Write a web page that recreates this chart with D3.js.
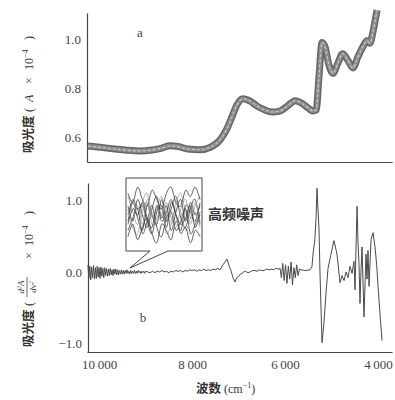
<!DOCTYPE html>
<html>
<head>
<meta charset="utf-8">
<script src="https://cdn.jsdelivr.net/npm/d3@7"></script>
<style>
  body { margin: 0; background: #fff; }
</style>
</head>
<body>
<div id="chart"></div>
<script>
var SERIF = "Liberation Serif, DejaVu Serif, serif";
var CJK = "Noto Sans CJK SC, sans-serif";

// top panel: absorbance spectrum (cm-1, A x 10^-4)
var topWave = [10240, 9980, 9660, 9400, 9120, 8860, 8650, 8475, 8300, 8090, 7830, 7610, 7400, 7270, 7140, 7030,
  6905, 6750, 6600, 6430, 6280, 6110, 5940, 5780, 5640, 5500, 5400, 5330, 5270, 5205, 5140, 5055, 4970,
  4860, 4760, 4650, 4540, 4430, 4320, 4240, 4175, 4110, 4065, 4020];
var topAbs = [0.565, 0.560, 0.553, 0.548, 0.545, 0.549, 0.557, 0.566, 0.563, 0.553, 0.550, 0.560, 0.590, 0.628, 0.685, 0.735,
  0.758, 0.748, 0.728, 0.712, 0.704, 0.708, 0.730, 0.750, 0.740, 0.720, 0.708, 0.712, 0.850, 0.988, 0.970, 0.895, 0.862,
  0.905, 0.942, 0.915, 0.884, 0.930, 0.972, 0.995, 0.985, 1.030, 1.075, 1.120];

// bottom panel: second derivative, noisy high-wavenumber end (sampled every 20 cm-1)
var denseWave = d3.range(10240, 8990, -20);
var denseD2 = [0.10, -0.09, 0.08, -0.11, 0.07, -0.08, 0.09, -0.10, 0.06, -0.09,
  0.08, -0.07, 0.06, -0.09, 0.07, -0.06, 0.05, -0.08, 0.06, -0.05,
  0.05, -0.06, 0.04, -0.05, 0.05, -0.04, 0.03, -0.05, 0.04, -0.03,
  0.04, -0.04, 0.03, -0.04, 0.02, -0.03, 0.03, -0.03, 0.02, -0.03,
  0.02, -0.02, 0.03, -0.02, 0.01, -0.03, 0.02, -0.02, 0.01, -0.02,
  0.02, -0.02, 0.01, -0.02, 0.02, -0.01, 0.01, -0.02, 0.01, -0.01,
  0.01, -0.02, 0.01];
// rest of the second derivative spectrum
var restWave = [8950, 8900, 8850, 8800, 8750, 8700, 8650, 8600, 8550, 8500,
  8450, 8400, 8350, 8300, 8250, 8200, 8150, 8100, 8050, 8000,
  7950, 7900, 7850, 7800, 7750, 7700, 7650, 7600, 7550, 7500,
  7450, 7400, 7335, 7290, 7250, 7200, 7163, 7120, 7077, 7040,
  7000, 6960, 6926, 6890, 6850, 6800, 6754, 6700, 6650, 6600,
  6550, 6500, 6450, 6400, 6350, 6300, 6250, 6200, 6150, 6108,
  6080, 6050, 6020, 5990, 5960, 5930, 5900, 5870, 5840, 5810,
  5780, 5750, 5720, 5690, 5650, 5571, 5463, 5420, 5399, 5360,
  5334, 5313, 5290, 5270, 5249, 5205, 5162, 5120, 5076, 5012,
  4948, 4883, 4818, 4775, 4732, 4689, 4646, 4603, 4560, 4517,
  4495, 4452, 4430, 4409, 4388, 4365, 4345, 4302, 4259, 4237,
  4216, 4194, 4151, 4108, 4065, 4030, 4000, 3957, 3914];
var restD2 = [0.00, -0.01, 0.01, -0.01, 0.01, 0.00, 0.02, 0.00, 0.01, -0.01,
  0.01, 0.00, 0.02, 0.01, 0.02, 0.00, 0.02, 0.01, 0.03, 0.02,
  0.03, 0.01, 0.03, 0.02, 0.04, 0.02, 0.03, 0.02, 0.04, 0.03,
  0.05, 0.03, 0.10, 0.14, 0.18, 0.08, 0.02, -0.08, -0.14, -0.08,
  -0.06, -0.03, -0.02, 0.00, 0.01, -0.01, 0.00, 0.02, 0.02, 0.01,
  0.03, 0.02, 0.02, 0.04, 0.03, 0.04, 0.03, 0.05, 0.04, 0.05,
  -0.08, 0.12, -0.12, 0.10, -0.16, 0.08, -0.10, 0.14, -0.18, 0.06,
  -0.08, 0.10, -0.05, 0.04, 0.03, 0.02, 0.03, 0.08, 0.25, 0.45,
  0.75, 1.17, 0.85, 0.60, 0.00, -0.99, -0.70, -0.30, 0.05, 0.25,
  0.44, 0.25, -0.15, -0.05, -0.12, 0.00, -0.08, 0.08, -0.02, 0.15,
  -0.25, 0.92, 0.40, 0.10, -0.44, 0.05, 0.35, -0.63, 0.25, -0.10,
  0.30, -0.20, 0.45, 0.55, 0.35, 0.10, -0.20, -0.60, -0.96];

// inset: overlapped high-frequency noise traces
var noise1 = [0.3, -0.2, 0.5, 0.0, -0.4, 0.2, 0.6, -0.1, 0.3, -0.5, 0.1, 0.5, -0.2, 0.4, 0.0, 0.3];
var noise2 = [-0.2, 0.4, -0.1, -0.5, 0.3, 0.0, -0.3, 0.5, -0.2, 0.2, 0.6, -0.1, -0.4, 0.2, 0.5, -0.3];
var noise3 = [0.6, 0.1, -0.3, 0.4, 0.7, -0.1, 0.2, 0.6, 0.0, -0.2, 0.4, 0.7, 0.1, -0.3, 0.3, 0.6];
var noise4 = [-0.5, -0.1, 0.2, -0.6, -0.2, 0.3, -0.4, -0.7, -0.1, 0.1, -0.5, -0.2, 0.2, -0.6, -0.3, 0.0];
var noise5 = [0.0, 0.5, 0.2, 0.3, -0.2, -0.6, 0.1, 0.3, -0.4, 0.4, 0.0, -0.5, 0.3, 0.1, -0.2, 0.4];
var noise6 = [0.2, -0.4, -0.6, 0.1, 0.4, -0.3, -0.1, 0.2, -0.6, -0.3, 0.2, 0.1, -0.5, -0.1, 0.4, -0.2];
var noise7 = [-0.7, -0.3, -0.8, -0.4, -0.1, -0.6, -0.9, -0.3, -0.5, -0.8, -0.2, -0.6, -0.4, -0.9, -0.5, -0.7];
var noise8 = [0.7, 0.4, 0.9, 0.5, 0.3, 0.8, 0.5, 0.2, 0.7, 0.9, 0.4, 0.3, 0.8, 0.6, 0.9, 0.5];
var noise9 = [0.1, -0.1, 0.3, -0.3, 0.5, 0.1, -0.2, 0.0, 0.4, -0.1, -0.4, 0.2, 0.5, -0.1, 0.1, -0.4];
var noise10 = [-0.3, 0.2, 0.0, 0.4, -0.1, -0.4, 0.3, -0.2, 0.1, 0.5, 0.0, -0.3, -0.1, 0.3, -0.4, 0.1];

var xTicks = [10000, 8000, 6000, 4000];
var topTicks = [0.6, 0.8, 1.0];
var botTicks = [-1.0, 0.0, 1.0];

var svg = d3.select("#chart").append("svg")
  .attr("width", 395)
  .attr("height", 400);

var x = d3.scaleLinear().domain([10260, 3700]).range([87, 392]);
var yTop = d3.scaleLinear().domain([0.5, 1.108]).range([162, 13]);
var yBot = d3.scaleLinear().domain([-1.12, 1.245]).range([352, 183]);

var fmtWave = d => d3.format(",")(d).replace(",", "\u2009");

function styleAxis(g) {
  g.select(".domain").attr("stroke", "#444").attr("stroke-width", 1.2);
  g.selectAll("text").attr("font-family", SERIF).attr("font-size", 13).attr("fill", "#444");
}

// ---- top panel
svg.append("g")
  .attr("transform", "translate(0,162)")
  .call(d3.axisBottom(x).tickValues([]).tickSizeOuter(0))
  .call(styleAxis);

svg.append("g")
  .attr("transform", "translate(87,0)")
  .call(d3.axisLeft(yTop).tickValues(topTicks).tickSize(0).tickPadding(6).tickFormat(d3.format(".1f")))
  .call(styleAxis);

var topData = topWave.map((w, i) => [w, topAbs[i]]);
var topLine = d3.line().x(d => x(d[0])).y(d => yTop(d[1])).curve(d3.curveMonotoneX);

svg.append("path").attr("d", topLine(topData))
  .attr("fill", "none").attr("stroke", "#666").attr("stroke-width", 7);
svg.append("path").attr("d", topLine(topData))
  .attr("fill", "none").attr("stroke", "#8c8c8c").attr("stroke-width", 4);
svg.append("path").attr("d", topLine(topData))
  .attr("fill", "none").attr("stroke", "#c8c8c8").attr("stroke-width", 1.2)
  .attr("stroke-dasharray", "3,2");

svg.append("text").attr("x", 140).attr("y", 37).attr("text-anchor", "middle")
  .attr("font-family", SERIF).attr("font-size", 13).attr("fill", "#444").text("a");

// ---- bottom panel
svg.append("g")
  .attr("transform", "translate(0,352)")
  .call(d3.axisBottom(x).tickValues(xTicks).tickSize(0).tickPadding(8).tickFormat(fmtWave).tickSizeOuter(0))
  .call(styleAxis);

svg.append("g")
  .attr("transform", "translate(88,0)")
  .call(d3.axisLeft(yBot).tickValues(botTicks).tickSize(0).tickPadding(6).tickFormat(d3.format(".1f")))
  .call(styleAxis);

var botWave = denseWave.concat(restWave);
var botD2 = denseD2.concat(restD2);
var botData = botWave.map((w, i) => [w, botD2[i]]);
svg.append("path")
  .attr("d", d3.line().x(d => x(d[0])).y(d => yBot(d[1]))(botData))
  .attr("fill", "none").attr("stroke", "#4a4a4a").attr("stroke-width", 1);

svg.append("text").attr("x", 143).attr("y", 322).attr("text-anchor", "middle")
  .attr("font-family", SERIF).attr("font-size", 13).attr("fill", "#444").text("b");

// inset with callout tail
svg.append("path")
  .attr("d", "M150,251 L126,251 L126,178 L202,178 L202,251 L168,251 L130,268 Z")
  .attr("fill", "#fff").attr("stroke", "#444").attr("stroke-width", 1);

var xi = d3.scaleLinear().domain([0, 15]).range([128, 200]);
var yi = d3.scaleLinear().domain([-1.1, 1.1]).range([249, 181]);
var inLine = d3.line().x((d, i) => xi(i)).y(d => yi(d)).curve(d3.curveCardinal);
[noise1, noise2, noise3, noise4, noise5, noise6, noise7, noise8, noise9, noise10].forEach((s, k) => {
  svg.append("path").attr("d", inLine(s))
    .attr("fill", "none")
    .attr("stroke", k % 3 === 2 ? "#9a9a9a" : "#3a3a3a")
    .attr("stroke-width", 0.8);
});

svg.append("text").attr("x", 208).attr("y", 219)
  .attr("font-family", CJK).attr("font-weight", 700).attr("fill", "#333")
  .attr("font-size", 14).text("高频噪声");

// ---- axis titles
function piece(g, txt, px, opts) {
  opts = opts || {};
  return g.append("text")
    .attr("x", px).attr("y", opts.y || 0)
    .attr("font-family", opts.cjk ? CJK : SERIF)
    .attr("font-weight", opts.cjk ? 700 : 400)
    .attr("font-style", opts.italic ? "italic" : "normal")
    .attr("font-size", opts.size || 12)
    .attr("text-anchor", opts.anchor || "start")
    .attr("fill", "#333")
    .html(txt);
}

var gTT = svg.append("g").attr("transform", "translate(33,92) rotate(-90)");
piece(gTT, "吸光度", -61, {cjk: true, size: 12.5});
piece(gTT, "(", -20);
piece(gTT, "A", -10, {italic: true});
piece(gTT, "×", 8);
piece(gTT, "10<tspan dy='-5' font-size='8'>−4</tspan>", 22);
piece(gTT, ")", 52);

var gBT = svg.append("g").attr("transform", "translate(33,275) rotate(-90)");
piece(gBT, "吸光度", -72, {cjk: true, size: 12.5});
piece(gBT, "(", -31);
piece(gBT, "d<tspan dy='-3' font-size='6'>2</tspan><tspan dy='3'>A</tspan>", -12, {y: -9, size: 9, italic: true, anchor: "middle"});
gBT.append("line").attr("x1", -22).attr("x2", -2).attr("y1", -6).attr("y2", -6)
  .attr("stroke", "#444").attr("stroke-width", 0.8);
piece(gBT, "dν<tspan dy='-3' font-size='6'>2</tspan>", -12, {y: 3, size: 9, italic: true, anchor: "middle"});
piece(gBT, "×", 16);
piece(gBT, "10<tspan dy='-5' font-size='8'>−4</tspan>", 29);
piece(gBT, ")", 60);

var gXT = svg.append("g").attr("transform", "translate(232,393)");
piece(gXT, "波数", -36, {cjk: true, size: 12.5});
piece(gXT, "(cm<tspan dy='-5' font-size='8'>−1</tspan><tspan dy='5'>)</tspan>", -8);
</script>
</body>
</html>
